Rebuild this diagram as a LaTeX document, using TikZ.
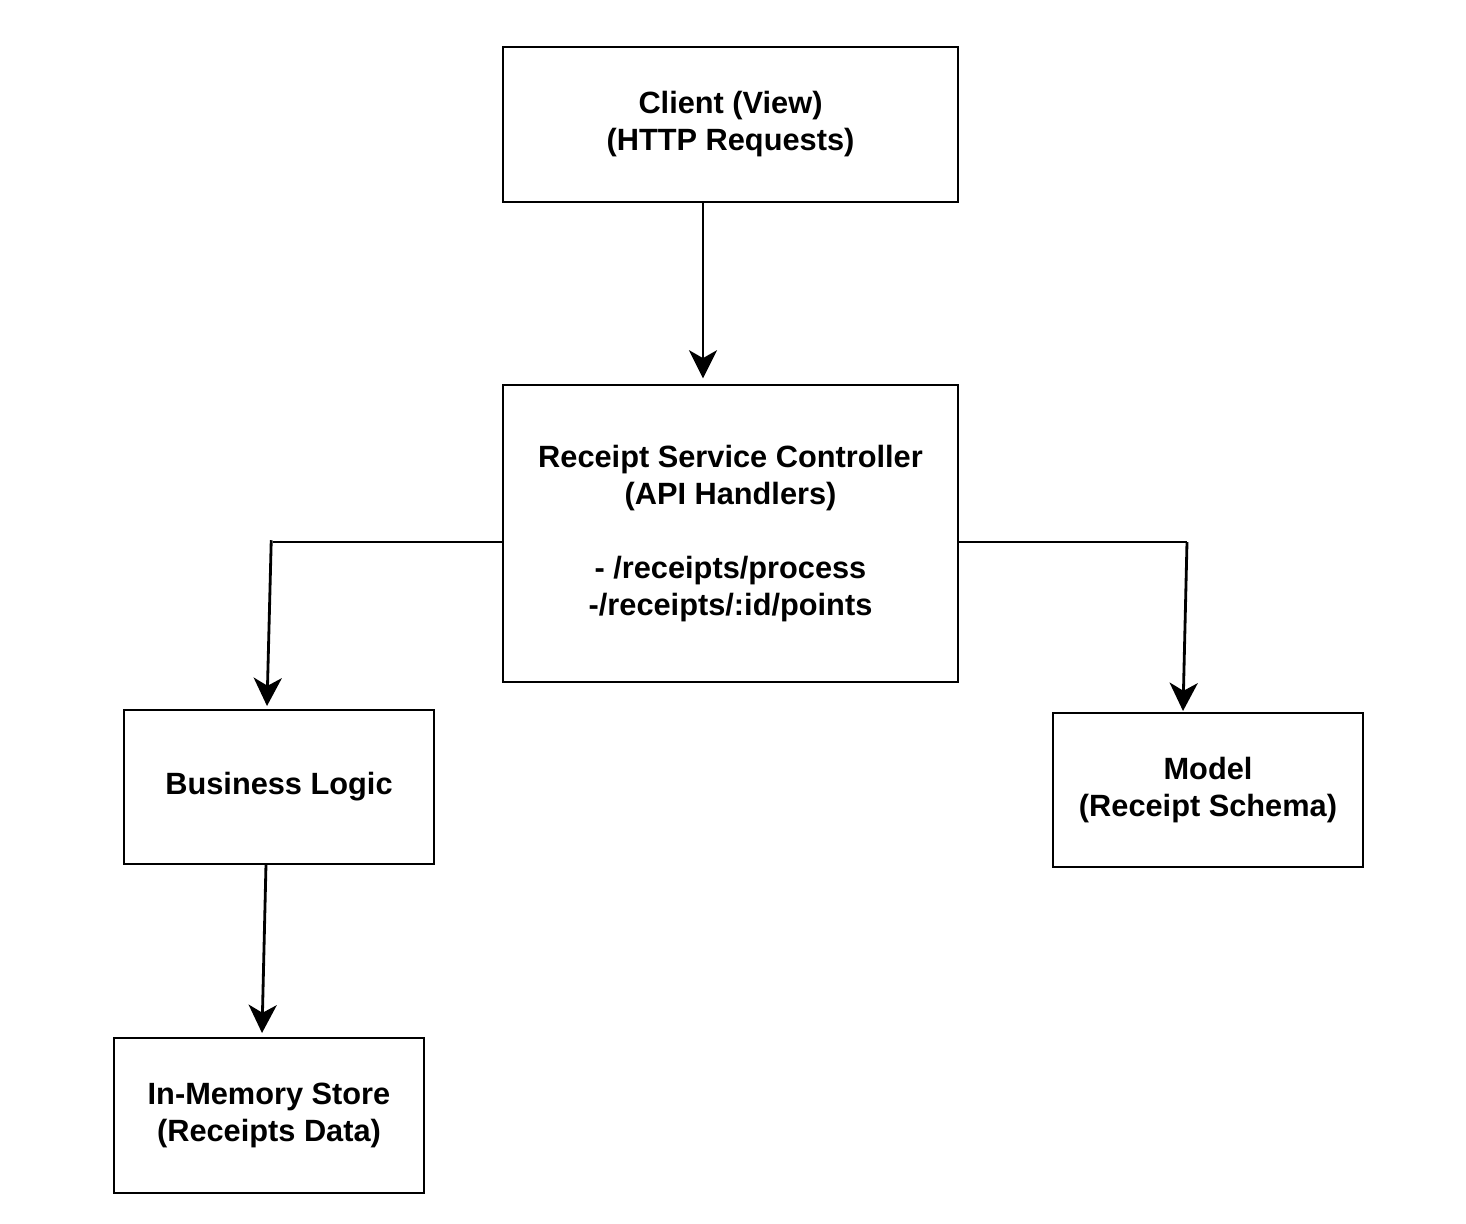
\documentclass[tikz,border=0pt]{standalone}
\usepackage{fontspec}
\setmainfont{Liberation Sans}
\usetikzlibrary{arrows.meta}
\begin{document}
\begin{tikzpicture}[>={Stealth[length=16pt,width=16pt,inset=4.5pt]},line width=1.6pt,
  box/.style={draw,align=center,font=\bfseries\fontsize{17.5}{21}\selectfont,inner sep=0pt}]
\useasboundingbox (0,0) rectangle (29.32,-24.48);
\node[box,minimum width=9.1cm,minimum height=3.1cm] (client) at (14.61,-2.49){Client (View)\\(HTTP Requests)};
\node[box,minimum width=9.1cm,minimum height=5.94cm] (ctrl) at (14.61,-10.67){Receipt Service Controller\\(API Handlers)\\[21pt]- /receipts/process\\-/receipts/:id/points};
\node[box,minimum width=6.2cm,minimum height=3.08cm] (logic) at (5.58,-15.74){Business Logic};
\node[box,minimum width=6.2cm,minimum height=3.08cm] (model) at (24.16,-15.80){Model\\(Receipt Schema)};
\node[box,minimum width=6.2cm,minimum height=3.1cm] (store) at (5.38,-22.31){In-Memory Store\\(Receipts Data)};
\coordinate (c1) at (14.06,-4.04);
\coordinate (l1) at (5.46,-10.84);
\coordinate (l2) at (5.34,-14.12);
\coordinate (r1) at (23.74,-10.84);
\coordinate (r2) at (23.66,-14.22);
\coordinate (s1) at (5.32,-17.28);
\coordinate (s2) at (5.24,-20.66);
\draw[->,shorten >=3pt] (c1) -- (ctrl.north -| c1);
\draw (ctrl.west |- l1) -- (l1);
\draw[->] ([xshift=-1pt,yshift=1pt]l1) -- (l2);
\draw (ctrl.east |- r1) -- (r1);
\draw[->] (r1) -- (r2);
\draw[->] (s1) -- (s2);
\end{tikzpicture}
\end{document}
